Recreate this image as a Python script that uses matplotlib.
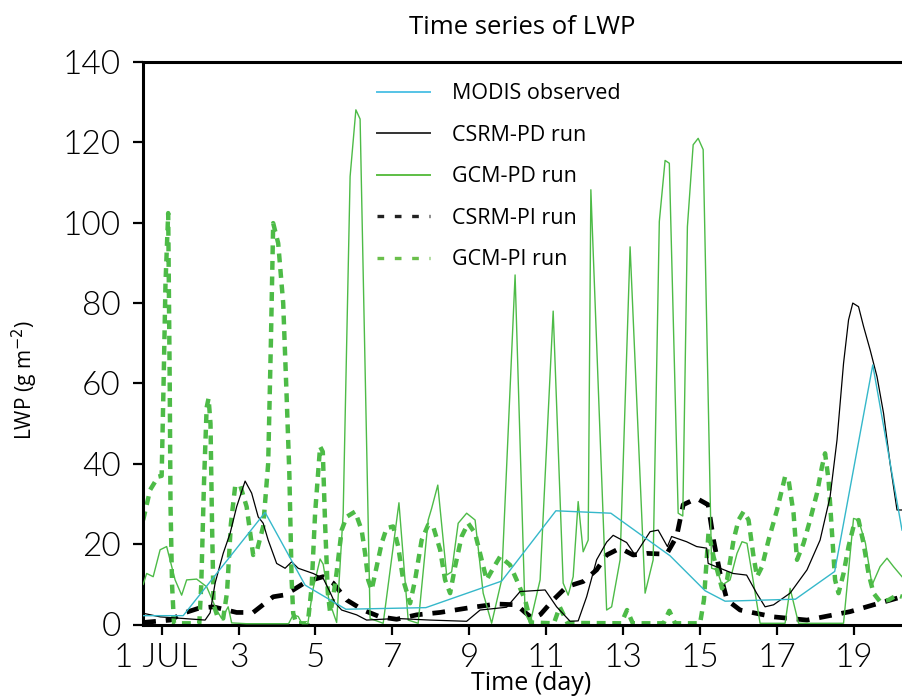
import matplotlib
matplotlib.use("Agg")
import matplotlib.pyplot as plt
from matplotlib.lines import Line2D
from matplotlib import font_manager as fm
import matplotlib.transforms as mtransforms

# ---------------- data ----------------
modis_day = [0.52, 1.56, 3.69, 4.73, 5.79, 7.87, 9.84, 11.25, 12.68, 14.22, 15.13, 15.65, 17.48, 18.5, 19.49, 20.25]
modis_val = [2.2, 2.2, 27.9, 9.8, 3.8, 4.2, 10.8, 28.3, 27.7, 17.1, 8.4, 5.8, 6.3, 13.2, 64.6, 23.5]

csrm_pd_day = [0.52, 0.96, 1.56, 2.13, 2.26, 2.39, 2.6, 2.78, 2.95, 3.17, 3.34, 3.51, 3.64, 3.77, 3.99,
               4.21, 4.38, 4.55, 4.94, 5.2, 5.38, 5.5, 5.68, 6.07, 6.33, 7.11, 7.98, 8.93, 9.28, 9.97,
               10.32, 10.97, 11.27, 11.62, 11.83, 12.05, 12.31, 12.57, 12.74, 13.09, 13.31, 13.7, 13.91,
               14.15, 14.26, 14.65, 14.91, 15.17, 15.21, 15.52, 15.86, 16.21, 16.47, 16.69, 16.91, 17.34,
               17.78, 18.12, 18.38, 18.56, 18.73, 18.86, 18.97, 19.12, 19.25, 19.42, 19.6, 19.77, 19.94,
               20.12, 20.25]
csrm_pd_val = [2.8, 1.9, 1.5, 1.1, 2.9, 10.3, 17.7, 22.7, 29.3, 35.7, 32.7, 26.8, 25.2, 21.0, 15.2,
               14.0, 15.6, 14.0, 12.7, 11.5, 8.0, 5.5, 3.6, 2.4, 1.1, 1.5, 1.1, 0.8, 3.6, 4.3,
               8.2, 8.6, 4.4, 0.8, 0.9, 6.9, 16.1, 20.5, 22.2, 20.4, 17.3, 23.1, 23.5,
               19.4, 21.9, 20.6, 19.4, 19.0, 15.2, 14.0, 12.7, 12.3, 7.8, 4.4, 4.9, 7.8,
               13.6, 21.0, 31.8, 45.9, 65.0, 75.8, 80.0, 79.1, 74.2, 68.4, 61.7, 52.6, 40.1,
               28.5, 28.5]

gcm_pd_day = [0.52, 0.61, 0.78, 0.96, 1.13, 1.35, 1.52, 1.65, 1.91, 2.17, 2.43, 2.56, 2.73, 2.82, 3.2,
              4.3, 4.42, 4.55, 4.65, 4.8, 4.94, 5.12, 5.2, 5.35, 5.55, 5.72, 5.9, 6.05, 6.16, 6.42,
              6.76, 7.17, 7.41, 7.67, 7.93, 8.02, 8.18, 8.41, 8.54, 8.71, 8.93, 9.15, 9.36, 9.58,
              9.84, 10.19, 10.45, 10.58, 10.84, 11.18, 11.44, 11.57, 11.7, 11.83, 11.96, 12.09, 12.16,
              12.57, 12.7, 12.92, 13.18, 13.57, 13.78, 13.94, 14.09, 14.2, 14.43, 14.55, 14.67, 14.82,
              14.95, 15.08, 15.3, 15.44, 15.57, 15.78, 15.96, 16.09, 16.22, 16.35, 16.56, 17.21, 17.34,
              17.56, 18.73, 18.99, 19.12, 19.3, 19.47, 19.68, 19.86, 20.03, 20.25]
gcm_pd_val = [10.0, 12.7, 11.9, 18.6, 19.4, 11.1, 7.3, 11.1, 11.3, 9.4, 3.6, 1.5, 4.4, 0.4, 0.2,
              0.2, 2.4, 2.0, 0.2, 0.2, 9.0, 16.3, 15.0, 6.0, 0.5, 27.7, 111.5, 128.1, 125.8, 1.5,
              0.3, 30.3, 1.1, 0.3, 26.0, 28.9, 34.7, 12.3, 13.1, 25.2, 27.7, 26.0, 7.8, 0.3,
              11.1, 87.0, 2.8, 0.3, 11.1, 78.0, 10.3, 7.3, 11.9, 30.6, 18.1, 21.0, 108.2,
              3.6, 4.4, 16.1, 94.0, 7.8, 16.1, 100.3, 115.5, 114.8, 27.7, 27.0, 99.0, 119.4,
              121.0, 118.2, 14.0, 13.6, 9.8, 11.1, 17.7, 20.6, 20.2, 12.7, 0.3, 0.3, 9.0,
              0.3, 0.3, 26.4, 26.0, 20.2, 9.8, 14.4, 16.5, 14.4, 11.9]

csrm_pi_day = [0.52, 1.22, 1.56, 1.95, 2.34, 2.95, 3.38, 3.9, 4.16, 4.42, 4.77, 5.2, 5.46, 5.81, 6.24,
               6.68, 7.11, 7.63, 8.24, 9.02, 9.71, 10.23, 10.45, 10.65, 10.85, 11.18, 11.53, 11.96,
               12.31, 12.57, 12.92, 13.26, 13.61, 14.13, 14.39, 14.56, 14.91, 15.21, 15.35, 15.52,
               15.7, 16.04, 16.91, 17.78, 18.9, 19.51, 20.25]
csrm_pi_val = [0.5, 1.1, 2.8, 4.0, 4.4, 3.0, 3.0, 6.9, 7.3, 8.6, 10.7, 11.9, 10.3, 6.1, 3.6,
               1.9, 1.3, 2.4, 3.0, 4.2, 5.1, 4.9, 3.0, 1.5, 2.5, 6.1, 9.4, 10.7,
               13.6, 17.3, 19.0, 17.3, 17.7, 17.5, 21.9, 29.8, 31.4, 29.8, 21.0, 12.7,
               6.1, 3.6, 1.9, 1.1, 3.2, 4.9, 6.9]

gcm_pi_day = [0.52, 0.7, 0.91, 1.0, 1.05, 1.1, 1.17, 1.21, 1.23, 1.27, 1.32, 1.98, 2.03, 2.1, 2.17,
              2.22, 2.27, 2.31, 2.35, 2.45, 2.6, 2.7, 2.8, 2.91, 3.04, 3.21, 3.38, 3.47, 3.64, 3.77,
              3.84, 3.9, 4.03, 4.16, 4.25, 4.32, 4.38, 4.42, 4.5, 4.8, 4.9, 4.99, 5.12, 5.19, 5.25,
              5.32, 5.38, 5.45, 5.55, 5.68, 5.81, 6.03, 6.2, 6.29, 6.37, 6.46, 6.59, 6.72, 6.85,
              7.02, 7.15, 7.28, 7.46, 7.59, 7.76, 7.93, 8.06, 8.24, 8.37, 8.5, 8.63, 8.8, 8.97,
              9.15, 9.28, 9.45, 9.62, 9.8, 10.06, 10.23, 10.45, 10.6, 11.2, 11.35, 11.55, 12.95,
              13.1, 13.25, 14.05, 14.2, 14.35, 15.0, 15.1, 15.22, 15.35, 15.57, 15.7, 15.87, 16.0,
              16.13, 16.26, 16.39, 16.48, 16.61, 16.78, 17.0, 17.21, 17.3, 17.43, 17.52, 17.69,
              17.86, 18.04, 18.17, 18.25, 18.34, 18.43, 18.51, 18.6, 18.73, 18.86, 18.99, 19.12,
              19.25, 19.38, 19.51, 19.68, 19.9, 20.12, 20.25]
gcm_pi_val = [26.0, 33.5, 36.8, 37.0, 60.0, 85.0, 102.4, 60.0, 30.0, 10.0, 0.3, 0.3, 10.0, 35.0, 54.0,
              56.3, 50.0, 25.0, 5.0, 2.0, 1.5, 8.0, 25.0, 34.3, 34.7, 29.3, 17.3, 18.1, 24.4, 40.1,
              70.0, 99.9, 94.9, 80.0, 56.7, 37.6, 11.0, 2.8, 0.3, 0.3, 9.4, 27.7, 44.3, 43.0, 25.0,
              8.0, 3.0, 6.0, 13.0, 23.5, 26.8, 28.1, 23.5, 17.7, 11.1, 8.6, 14.4, 20.2, 24.0,
              24.4, 19.4, 11.1, 5.3, 11.1, 21.0, 24.8, 24.4, 18.6, 11.1, 7.8, 14.4, 21.9, 25.2,
              22.7, 17.7, 11.1, 14.0, 16.9, 14.8, 11.1, 6.1, 0.5, 0.3, 4.4, 0.4, 0.3,
              3.6, 0.3, 0.3, 3.4, 0.3, 0.3, 6.1, 23.0, 16.9, 9.0, 11.1, 21.0, 26.0,
              28.1, 26.0, 16.9, 11.9, 14.4, 21.0, 28.5, 36.8, 36.0, 27.7, 16.1, 20.2,
              26.0, 32.7, 39.3, 42.6, 36.0, 22.7, 11.1, 7.8, 12.7, 19.4, 24.4, 26.0,
              20.2, 12.7, 7.8, 5.7, 6.1, 7.3, 6.9]

xticks = [1, 3, 5, 7, 9, 11, 13, 15, 17, 19]
xticklabels = ['1 JUL', '3', '5', '7', '9', '11', '13', '15', '17', '19']
yticks = [0, 20, 40, 60, 80, 100, 120, 140]
labels = ['MODIS observed', 'CSRM-PD run', 'GCM-PD run', 'CSRM-PI run', 'GCM-PI run']

# ---------------- fonts ----------------
available = {f.name for f in fm.fontManager.ttflist}
text_fam = 'Open Sans' if 'Open Sans' in available else 'DejaVu Sans'
tick_prop = None
for fam in ['Lato', 'Roboto', 'Open Sans']:
    for f in fm.fontManager.ttflist:
        if f.name == fam and f.weight == 300 and f.style == 'normal':
            tick_prop = fm.FontProperties(fname=f.fname, size=24)
            break
    if tick_prop is not None:
        break
if tick_prop is None:
    tick_prop = fm.FontProperties(family='Lato' if 'Lato' in available else 'DejaVu Sans', size=24)

# ---------------- colours ----------------
c_modis = '#35B8CA'
c_green = '#4DBB47'
c_black = '#000000'

fig = plt.figure(figsize=(9.02, 6.98), dpi=100)
ax = fig.add_axes([143/902, 73.5/698, 759/902, 562.5/698])

ax.plot(csrm_pi_day, csrm_pi_val, color=c_black, lw=3.4, dashes=(2.7, 2.1), zorder=2)
ax.plot(gcm_pi_day, gcm_pi_val, color=c_green, lw=3.2, dashes=(2.0, 1.5), zorder=2)
ax.plot(gcm_pd_day, gcm_pd_val, color=c_green, lw=1.0, zorder=3)
ax.plot(csrm_pd_day, csrm_pd_val, color=c_black, lw=0.9, zorder=4)
ax.plot(modis_day, modis_val, color=c_modis, lw=1.0, zorder=5)

ax.set_xlim(0.515, 20.25)
ax.set_ylim(0, 140)
ax.set_xticks(xticks)
ax.set_xticklabels(xticklabels)
ax.set_yticks(yticks)

for s in ['left', 'bottom', 'top']:
    ax.spines[s].set_linewidth(2.2)
ax.spines['right'].set_visible(False)
ax.tick_params(axis='both', direction='out', length=7, width=1.6, pad=6)
ax.tick_params(axis='y', pad=9)
for lab in ax.get_xticklabels() + ax.get_yticklabels():
    lab.set_fontproperties(tick_prop)
    lab.set_color('black')
# shift "1 JUL" slightly left
first = ax.get_xticklabels()[0]
first.set_transform(first.get_transform() + mtransforms.ScaledTranslation(-6/100, 0, fig.dpi_scale_trans))

ax.set_title('Time series of LWP', fontfamily=text_fam, fontsize=18.5, pad=20)
ax.set_ylabel('LWP (g m$^{-2}$)', fontfamily=text_fam, fontsize=15)
ax.yaxis.set_label_coords(-0.155, 0.435)
ax.yaxis.label.set_va('center')
ax.set_xlabel('Time (day)', fontfamily=text_fam, fontsize=18)
ax.xaxis.set_label_coords(0.511, -0.127)
ax.xaxis.label.set_va('bottom')

handles = [
    Line2D([], [], color='#55C3E6', lw=1.4),
    Line2D([], [], color='#333333', lw=1.4),
    Line2D([], [], color='#5DBE45', lw=1.4),
    Line2D([], [], color='#222222', lw=2.4, dashes=(2.0, 3.2)),
    Line2D([], [], color='#6ABF4B', lw=2.4, dashes=(2.0, 3.2)),
]
leg = ax.legend(handles, labels, loc='upper left', bbox_to_anchor=(0.308, 0.962),
                frameon=False, prop={'family': text_fam, 'size': 15.5},
                handlelength=2.45, handletextpad=1.05, labelspacing=0.95,
                borderpad=0, borderaxespad=0)

fig.savefig('out.png', dpi=100)
